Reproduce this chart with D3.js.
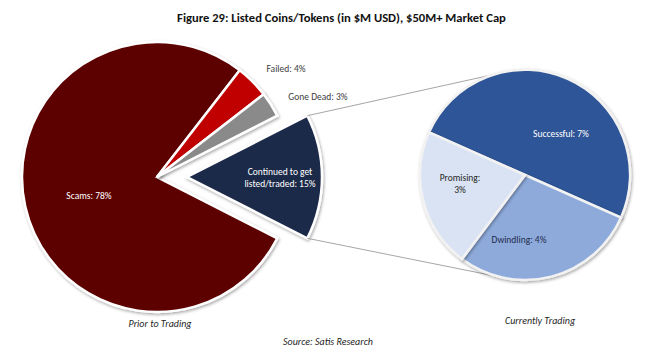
<!DOCTYPE html>
<html>
<head>
<meta charset="utf-8">
<script src="https://cdn.jsdelivr.net/npm/d3@7"></script>
<style>
  html, body { margin: 0; padding: 0; background: #fff; }
  svg { display: block; font-family: Carlito, Calibri, Lato, "Open Sans", sans-serif; }
</style>
</head>
<body>
<svg id="chart" width="649" height="353"></svg>
<script>
// ---------- data ----------
const title = "Figure 29: Listed Coins/Tokens (in $M USD), $50M+ Market Cap";
const source = "Source: Satis Research";

const priorCategories = ["Scams", "Failed", "Gone Dead", "Continued to get listed/traded"];
const priorValues = [78, 4, 3, 15];
const priorColors = ["#5c0000", "#c00000", "#8a8a8a", "#1e2a4a"];

const currentCategories = ["Successful", "Dwindling", "Promising"];
const currentValues = [7, 4, 3];
const currentColors = ["#2f5597", "#8eaadb", "#dae3f3"];

const pieTitles = ["Prior to Trading", "Currently Trading"];

// ---------- layout ----------
const svg = d3.select("#chart");
const deg = Math.PI / 180;

const defs = svg.append("defs");
const f = defs.append("filter").attr("id", "shadow")
  .attr("x", "-20%").attr("y", "-20%").attr("width", "140%").attr("height", "140%");
f.append("feDropShadow").attr("dx", 1).attr("dy", 1.5).attr("stdDeviation", 1.6)
  .attr("flood-color", "#000").attr("flood-opacity", 0.35);

svg.append("text")
  .attr("x", 341.5).attr("y", 22)
  .attr("text-anchor", "middle")
  .attr("font-weight", "bold").attr("font-size", 12.6)
  .attr("fill", "#111")
  .text(title);

// left pie
const L = { cx: 157, cy: 177, r: 135, explode: 30 };
const contFrac = priorValues[3] / d3.sum(priorValues);
const startL = Math.PI / 2 + contFrac * Math.PI; // so that "Continued" is centered at 3 o'clock
const pieL = d3.pie().sort(null).value(d => d)
  .startAngle(startL).endAngle(startL + 2 * Math.PI);
const arcsL = pieL(priorValues);
const arcL = d3.arc().innerRadius(0).outerRadius(L.r);

const gL = svg.append("g").attr("transform", `translate(${L.cx},${L.cy})`);
gL.selectAll("path").data(arcsL).join("path")
  .attr("d", arcL)
  .attr("fill", (d, i) => priorColors[i])
  .attr("stroke", "#fff").attr("stroke-width", 2.5)
  .attr("filter", "url(#shadow)")
  .attr("transform", (d, i) => {
    if (i !== 3) return null;
    const m = (d.startAngle + d.endAngle) / 2;
    return `translate(${L.explode * Math.sin(m)},${-L.explode * Math.cos(m)})`;
  });

// right pie
const R = { cx: 525, cy: 175, r: 105 };
const succFrac = currentValues[0] / d3.sum(currentValues);
const startR = Math.PI / 2 + 24 * deg - succFrac * 2 * Math.PI;
const pieR = d3.pie().sort(null).value(d => d)
  .startAngle(startR).endAngle(startR + 2 * Math.PI);
const arcsR = pieR(currentValues);
const arcR = d3.arc().innerRadius(0).outerRadius(R.r);

// connector lines
const cont = arcsL[3];
const cm = (cont.startAngle + cont.endAngle) / 2;
const ox = L.cx + L.explode * Math.sin(cm), oy = L.cy - L.explode * Math.cos(cm);
const pt = (cx, cy, r, a) => [cx + r * Math.sin(a), cy - r * Math.cos(a)];
const lineEnds = [-10 * deg, 190 * deg];
[cont.startAngle, cont.endAngle].forEach((a, i) => {
  const p1 = pt(ox, oy, L.r, a);
  const p2 = pt(R.cx, R.cy, R.r, lineEnds[i]);
  svg.append("line")
    .attr("x1", p1[0]).attr("y1", p1[1]).attr("x2", p2[0]).attr("y2", p2[1])
    .attr("stroke", "#a6a6a6").attr("stroke-width", 1);
});

const gR = svg.append("g").attr("transform", `translate(${R.cx},${R.cy})`);
gR.selectAll("path").data(arcsR).join("path")
  .attr("d", arcR)
  .attr("fill", (d, i) => currentColors[i])
  .attr("stroke", "#f2f2f2").attr("stroke-width", 2.5)
  .attr("filter", "url(#shadow)");

// labels
function label(lines, x, y, color) {
  const t = svg.append("text")
    .attr("text-anchor", "middle")
    .attr("font-size", 9.5)
    .attr("fill", color);
  lines.forEach((s, i) => {
    t.append("tspan").attr("x", x).attr("y", y + i * 12).text(s);
  });
}
label([`${priorCategories[0]}: ${priorValues[0]}%`], 89, 199, "#fff");
label([`${priorCategories[1]}: ${priorValues[1]}%`], 286, 72, "#404040");
label([`${priorCategories[2]}: ${priorValues[2]}%`], 318, 100, "#404040");
label(["Continued to get", `listed/traded: ${priorValues[3]}%`], 280, 175, "#fff");

label([`${currentCategories[0]}: ${currentValues[0]}%`], 561, 137, "#fff");
label([`${currentCategories[1]}: ${currentValues[1]}%`], 519, 243, "#1f2d4d");
label([`${currentCategories[2]}:`, `${currentValues[2]}%`], 460, 181, "#262626");

// pie titles & source
svg.append("text").attr("x", 160).attr("y", 327).attr("text-anchor", "middle")
  .attr("font-style", "italic").attr("font-size", 10).attr("fill", "#262626").text(pieTitles[0]);
svg.append("text").attr("x", 540).attr("y", 324).attr("text-anchor", "middle")
  .attr("font-style", "italic").attr("font-size", 10).attr("fill", "#262626").text(pieTitles[1]);
svg.append("text").attr("x", 328).attr("y", 345).attr("text-anchor", "middle")
  .attr("font-style", "italic").attr("font-size", 10).attr("fill", "#262626").text(source);
</script>
</body>
</html>
